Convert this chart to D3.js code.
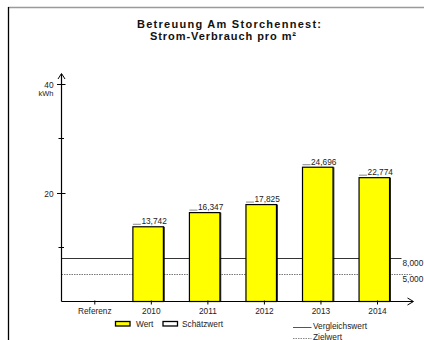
<!DOCTYPE html>
<html><head><meta charset="utf-8">
<script src="https://cdn.jsdelivr.net/npm/d3@7"></script>
<style>
html,body{margin:0;padding:0;background:#fff;overflow:hidden}
svg{display:block;font-family:"Liberation Sans",Arial,sans-serif}
</style></head>
<body>
<svg id="c" width="424" height="340"></svg>
<script>
const categories = ["Referenz","2010","2011","2012","2013","2014"];
const values = [null, 13.742, 16.347, 17.825, 24.696, 22.774];
const valueLabels = ["", "13,742", "16,347", "17,825", "24,696", "22,774"];
const refLines = [
  {name:"Vergleichswert", value:8.0, label:"8,000", dash:null},
  {name:"Zielwert", value:5.0, label:"5,000", dash:"1.5,1"}
];
const majorTicks = [20, 40];
const minorTicks = [10, 30];
const titleLines = ["Betreuung Am Storchennest:", "Strom-Verbrauch pro m²"];

const svg = d3.select("#c");
const x = d3.scalePoint().domain(categories).range([94.3, 377]);
const y = d3.scaleLinear().domain([0, 40]).range([301.5, 84]);
const axisX0 = 61.5;
const txt = "#222";

// frame
svg.append("line").attr("x1",8).attr("x2",424).attr("y1",7.5).attr("y2",7.5).attr("stroke","#9a9a9a").attr("stroke-width",1.3);
svg.append("line").attr("x1",8.5).attr("x2",8.5).attr("y1",7).attr("y2",340).attr("stroke","#000").attr("stroke-width",1.3);

// title
svg.append("text").attr("x",229).attr("y",27.5).attr("text-anchor","middle")
  .attr("font-size",11).attr("font-weight","bold").attr("fill","#111")
  .attr("textLength",184).attr("lengthAdjust","spacing").text(titleLines[0]);
svg.append("text").attr("x",223).attr("y",39.5).attr("text-anchor","middle")
  .attr("font-size",11).attr("font-weight","bold").attr("fill","#111")
  .attr("textLength",146).attr("lengthAdjust","spacing").text(titleLines[1]);

// reference lines
refLines.forEach((r,i)=>{
  const ly = Math.round(y(r.value))+0.5;
  const l = svg.append("line").attr("x1",axisX0).attr("x2", i===0?401.5:412).attr("y1",ly).attr("y2",ly)
    .attr("stroke", i===0?"#333":"#777").attr("stroke-width",1);
  if (r.dash) l.attr("stroke-dasharray", r.dash);
  svg.append("text").attr("x",402.5).attr("y",ly+7.5).attr("font-size",8.3).attr("fill",txt).text(r.label);
});

// bars
const bw = 30.5, off = -2.7;
const bars = categories.map((c,i)=>({c, v:values[i], lab:valueLabels[i]})).filter(d=>d.v!=null);
const g = svg.append("g");
g.selectAll("rect.bar").data(bars).join("rect").attr("class","bar")
  .attr("x", d=>x(d.c)+off-bw/2).attr("y", d=>y(d.v))
  .attr("width", bw).attr("height", d=>y(0)-y(d.v))
  .attr("fill","#ffff00").attr("stroke","#000").attr("stroke-width",1.2);
g.selectAll("line.shadow").data(bars).join("line").attr("class","shadow")
  .attr("x1", d=>x(d.c)+off+bw/2+0.8).attr("x2", d=>x(d.c)+off+bw/2+0.8)
  .attr("y1", d=>y(d.v)).attr("y2", y(0))
  .attr("stroke","#000").attr("stroke-width",1);
g.selectAll("line.lead").data(bars).join("line").attr("class","lead")
  .attr("x1", d=>x(d.c)+off-bw/2).attr("x2", d=>x(d.c)+off-bw/2+8)
  .attr("y1", d=>y(d.v)-2.5).attr("y2", d=>y(d.v)-2.5)
  .attr("stroke","#888").attr("stroke-width",1);
g.selectAll("text.val").data(bars).join("text").attr("class","val")
  .attr("x", d=>x(d.c)+off-bw/2+8.5).attr("y", d=>y(d.v)-2.5)
  .attr("font-size",8.3).attr("fill",txt).text(d=>d.lab);

// y axis
svg.append("line").attr("x1",axisX0).attr("x2",axisX0).attr("y1",y(0)).attr("y2",74)
  .attr("stroke","#000").attr("stroke-width",1.2);
svg.append("path").attr("d",`M${axisX0-3.5},${79} L${axisX0},${73.5} L${axisX0+3.5},${79}`)
  .attr("fill","none").attr("stroke","#000").attr("stroke-width",1);
majorTicks.forEach(t=>{
  const ty = Math.round(y(t))+0.5;
  svg.append("line").attr("x1",axisX0-4.5).attr("x2",axisX0+4).attr("y1",ty).attr("y2",ty).attr("stroke","#000");
  svg.append("text").attr("x",53.5).attr("y",ty+3).attr("text-anchor","end").attr("font-size",8.3).attr("fill",txt).text(t);
});
minorTicks.forEach(t=>{
  const ty = Math.round(y(t))+0.5;
  svg.append("line").attr("x1",axisX0-3).attr("x2",axisX0+2.5).attr("y1",ty).attr("y2",ty).attr("stroke","#000");
});
svg.append("text").attr("x",53.5).attr("y",96).attr("text-anchor","end").attr("font-size",7.5).attr("fill",txt).text("kWh");

// x axis
const xAxis = d3.axisBottom(x).tickSizeInner(4).tickSizeOuter(0).tickPadding(3);
const gx = svg.append("g").attr("transform",`translate(0,${y(0)})`).call(xAxis);
gx.select(".domain").remove();
gx.selectAll(".tick line").attr("stroke","#000").attr("transform","translate(0,-1)");
gx.selectAll(".tick text").attr("font-size",8.3).attr("fill",txt).attr("font-family","Liberation Sans, Arial, sans-serif");
svg.append("line").attr("x1",axisX0).attr("x2",413).attr("y1",y(0)).attr("y2",y(0)).attr("stroke","#000").attr("stroke-width",1.2);
svg.append("path").attr("d",`M407.5,${y(0)-3.5} L413.5,${y(0)} L407.5,${y(0)+3.5}`)
  .attr("fill","none").attr("stroke","#000").attr("stroke-width",1);

// legend
const leg = svg.append("g");
[{n:"Wert",fill:"#ffff00",x:115.5,tx:136},{n:"Schätzwert",fill:"#fff",x:163,tx:182}].forEach(d=>{
  leg.append("rect").attr("x",d.x).attr("y",321.5).attr("width",14.5).attr("height",4.5)
    .attr("fill",d.fill).attr("stroke","#000").attr("stroke-width",1.3);
  leg.append("text").attr("x",d.tx).attr("y",327).attr("font-size",8.3).attr("fill",txt).text(d.n);
});
refLines.forEach((r,i)=>{
  const ly = 327.5 + i*11;
  const l = leg.append("line").attr("x1",293).attr("x2",311.5).attr("y1",ly).attr("y2",ly)
    .attr("stroke", i===0?"#555":"#888").attr("stroke-width",1);
  if (r.dash) l.attr("stroke-dasharray", r.dash);
  leg.append("text").attr("x",313).attr("y",ly+1).attr("font-size",8.3).attr("fill",txt).text(r.name);
});
</script>
</body></html>
